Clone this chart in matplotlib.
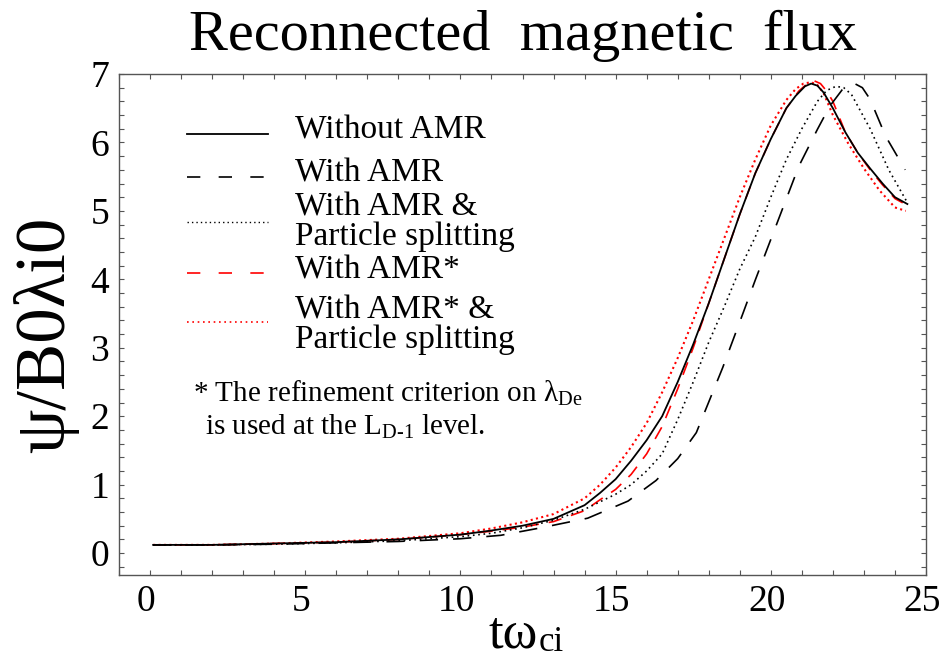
import matplotlib
matplotlib.use('Agg')
import matplotlib.pyplot as plt
from matplotlib.lines import Line2D
from matplotlib.ticker import MultipleLocator
from matplotlib.transforms import ScaledTranslation

plt.rcParams['font.family'] = ['Liberation Serif', 'DejaVu Serif']
plt.rcParams['mathtext.fontset'] = 'custom'
plt.rcParams['mathtext.rm'] = 'Liberation Serif'
plt.rcParams['mathtext.it'] = 'Liberation Serif:italic'

# ---------------- data ----------------
t_without = [0.1, 2, 4, 6, 8, 10, 11, 12, 13, 14, 14.5, 15, 15.5, 16, 16.5, 17, 17.5, 18, 18.5, 19,
             19.5, 20, 20.5, 20.8, 21.1, 21.3, 21.5, 21.7, 22.0, 22.4, 22.8, 23.2, 23.6, 24.0, 24.4]
psi_without = [0.12, 0.12, 0.14, 0.16, 0.20, 0.27, 0.33, 0.40, 0.50, 0.70, 0.88, 1.08, 1.35, 1.65, 2.00,
               2.50, 3.05, 3.65, 4.30, 4.95, 5.55, 6.05, 6.50, 6.68, 6.82, 6.86, 6.83, 6.73, 6.50, 6.15,
               5.85, 5.62, 5.40, 5.20, 5.10]

t_amr = [0.1, 2, 4, 6, 8, 10, 11.3, 12.6, 14.1, 15.4, 16.3, 17.0, 17.6, 18.45, 19.1, 19.5, 20.2,
         20.9, 21.5, 21.9, 22.3, 22.5, 22.7, 22.95, 23.2, 23.7, 24.33]
psi_amr = [0.12, 0.12, 0.13, 0.15, 0.17, 0.21, 0.26, 0.37, 0.51, 0.76, 1.06, 1.38, 1.76, 2.71, 3.50,
           3.99, 4.82, 5.65, 6.19, 6.53, 6.77, 6.84, 6.86, 6.80, 6.63, 6.09, 5.60]

t_amr_ps = [0.1, 2, 4, 6, 8, 10, 11, 12, 13, 14, 15, 15.5, 16, 16.5, 17, 17.5, 18, 18.5, 19, 19.5,
            20, 20.5, 21, 21.5, 21.8, 22.1, 22.35, 22.6, 23.2, 23.8, 24.4]
psi_amr_ps = [0.12, 0.12, 0.13, 0.15, 0.18, 0.24, 0.29, 0.37, 0.48, 0.64, 0.86, 1.00, 1.20, 1.45, 1.95,
              2.50, 3.08, 3.60, 4.15, 4.62, 5.20, 5.75, 6.20, 6.60, 6.76, 6.82, 6.80, 6.70, 6.20, 5.60,
              5.12]

t_amrs = [0.1, 2, 4, 6, 8, 10, 11, 12, 13, 14, 14.5, 15, 15.5, 16, 16.5, 17, 17.5, 18, 18.5, 19,
          19.5, 20, 20.5, 20.9, 21.2, 21.4, 21.6, 21.8, 22.0, 22.4, 22.8, 23.2, 23.6, 24.0, 24.4]
psi_amrs = [0.12, 0.12, 0.14, 0.16, 0.20, 0.27, 0.32, 0.38, 0.46, 0.62, 0.78, 0.93, 1.15, 1.45, 1.85,
            2.40, 3.00, 3.65, 4.30, 4.95, 5.55, 6.05, 6.50, 6.75, 6.87, 6.90, 6.86, 6.75, 6.60, 6.15,
            5.85, 5.60, 5.38, 5.18, 5.08]

t_amrs_ps = [0.1, 2, 4, 6, 8, 10, 11, 12, 13, 14, 14.5, 15, 15.5, 16, 16.5, 17, 17.5, 18, 18.5, 19,
             19.5, 20, 20.5, 20.8, 21.05, 21.3, 21.5, 21.7, 22.0, 22.5, 23.0, 23.5, 24.0, 24.35]
psi_amrs_ps = [0.12, 0.12, 0.14, 0.17, 0.21, 0.29, 0.36, 0.45, 0.57, 0.80, 1.00, 1.25, 1.55, 1.90, 2.35,
               2.85, 3.40, 4.00, 4.60, 5.20, 5.75, 6.25, 6.62, 6.78, 6.86, 6.88, 6.84, 6.72, 6.40, 5.98,
               5.62, 5.30, 5.05, 5.00]

labels = ['Without AMR', 'With AMR', 'With AMR &\nParticle splitting', 'With AMR*',
          'With AMR* &\nParticle splitting']
x_ticks = [0, 5, 10, 15, 20, 25]
y_ticks = [0, 1, 2, 3, 4, 5, 6, 7]

# ---------------- figure ----------------
W, H = 941, 658
fig = plt.figure(figsize=(W / 100, H / 100), dpi=100)

def fx(px):
    return px / W

def fy(py):
    return 1 - py / H

ax = fig.add_axes([fx(119), fy(575), (926 - 119) / W, (575 - 74) / H])

styles = [
    dict(color='red', lw=1.5, dashes=(1.0, 1.6)),          # AMR* & PS
    dict(color='red', lw=1.2, dashes=(8, 6)),              # AMR*
    dict(color='black', lw=1.2, dashes=(1.0, 2.2)),        # AMR & PS
    dict(color='black', lw=1.2, dashes=(11, 9)),           # AMR
    dict(color='black', lw=1.3),                           # without
]
series = [(t_amrs_ps, psi_amrs_ps), (t_amrs, psi_amrs), (t_amr_ps, psi_amr_ps),
          (t_amr, psi_amr), (t_without, psi_without)]
for (tt, pp), st in zip(series, styles):
    ax.plot(tt, pp, **st)

ax.set_xlim(-1, 25)
ax.set_ylim(-0.32, 7)
ax.set_xticks(x_ticks)
ax.set_yticks(y_ticks)
ax.xaxis.set_minor_locator(MultipleLocator(1))
ax.yaxis.set_minor_locator(MultipleLocator(0.2))
ax.tick_params(which='both', direction='in', top=True, right=True, length=3.8,
               width=0.8, color='#555555')
ax.tick_params(which='major', labelsize=27, pad=7)
shift = ScaledTranslation(-4 / 100, 0, fig.dpi_scale_trans)
for lab in ax.get_xticklabels():
    lab.set_transform(lab.get_transform() + shift)
for sp in ax.spines.values():
    sp.set_color('#555555')
    sp.set_linewidth(1.0)

# title and axis labels
fig.text(fx(523), fy(50), 'Reconnected  magnetic  flux', ha='center', va='baseline', fontsize=42)
fig.text(fx(488), fy(648), 'tω', ha='left', va='baseline', fontsize=38)
fig.text(fx(539), fy(651), 'ci', ha='left', va='baseline', fontsize=25)
fig.text(fx(46), fy(335), 'ψ/B0λi0', ha='center', va='center', rotation=90, fontsize=51)

# legend (drawn manually)
leg_lines = [
    (134, dict(color='black', lw=1.3)),
    (177, dict(color='black', lw=1.2, dashes=(8, 11))),
    (222, dict(color='black', lw=1.0, dashes=(1.0, 2.2))),
    (273, dict(color='red', lw=1.2, dashes=(8, 11))),
    (322, dict(color='red', lw=1.2, dashes=(1.0, 2.2))),
]
for yy, st in leg_lines:
    fig.add_artist(Line2D([fx(187), fx(268)], [fy(yy), fy(yy)], transform=fig.transFigure, **st))

leg_text_y = [(130, labels[0]), (173, labels[1]), (207, 'With AMR &'), (237, 'Particle splitting'),
              (270, labels[3]), (310, 'With AMR* &'), (340, 'Particle splitting')]
for yy, s in leg_text_y:
    fig.text(fx(295), fy(yy), s, ha='left', va='center', fontsize=24)

fig.text(fx(193), fy(393), r'* The refinement criterion on $\mathrm{λ_{De}}$', ha='left',
         va='center', fontsize=21)
fig.text(fx(205), fy(427), r'is used at the $\mathrm{L_{D\text{-}1}}$ level.', ha='left',
         va='center', fontsize=21)

fig.savefig('out.png', dpi=100)
